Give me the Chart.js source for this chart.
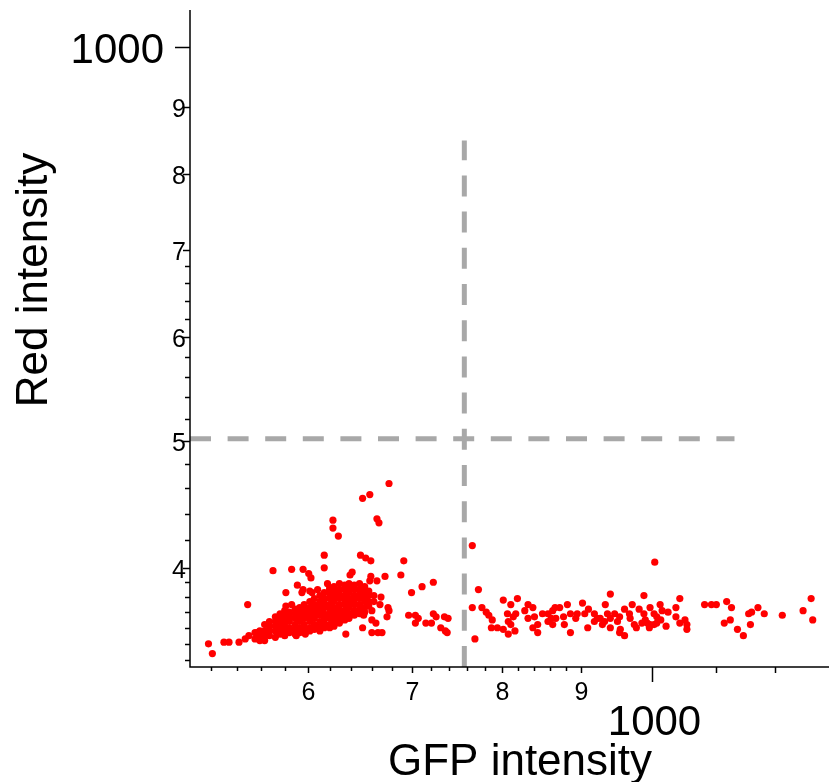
<!DOCTYPE html>
<html lang="en">
<head>
<meta charset="UTF-8">
<title>GFP vs Red intensity</title>
<script src="https://cdn.jsdelivr.net/npm/chart.js"></script>
<style>
  html, body { margin: 0; padding: 0; background: #fff; }
  #wrap { width: 833px; height: 782px; }
</style>
</head>
<body>
<div id="wrap"><canvas id="plot"></canvas></div>
<script>
// dense cluster, GFP ~550-660 / Red ~350-390
const clusterPts = [
  [555,357],[555,353],
  [559,358],[559,355],[559,352],
  [563,362],[563,358],[563,355],[563,352],
  [567,364],[567,361],[567,358],[567,355],
  [572,367],[572,364],[572,361],[572,358],[572,354],
  [576,369],[576,365],[576,362],[576,359],[576,356],
  [580,371],[580,367],[580,364],[580,361],[580,358],[580,355],
  [584,370],[584,367],[584,364],[584,360],[584,357],
  [589,372],[589,369],[589,366],[589,362],[589,359],[589,356],
  [593,373],[593,370],[593,367],[593,364],[593,360],[593,357],
  [597,375],[597,372],[597,369],[597,366],[597,362],[597,359],[597,357],
  [602,377],[602,373],[602,370],[602,367],[602,364],[602,360],[602,358],
  [606,379],[606,375],[606,372],[606,369],[606,366],[606,362],[606,359],
  [611,381],[611,377],[611,374],[611,371],[611,368],[611,364],[611,361],[611,358],
  [615,383],[615,379],[615,376],[615,373],[615,369],[615,366],[615,363],[615,360],
  [620,385],[620,382],[620,379],[620,375],[620,372],[620,369],[620,366],[620,362],
  [624,387],[624,383],[624,380],[624,377],[624,373],[624,370],[624,367],[624,364],[624,361],
  [629,389],[629,385],[629,382],[629,379],[629,375],[629,372],[629,369],[629,366],[629,363],
  [634,388],[634,385],[634,381],[634,378],[634,375],[634,371],[634,368],[634,365],
  [638,389],[638,386],[638,383],[638,379],[638,376],[638,373],[638,369],[638,366],
  [643,388],[643,385],[643,381],[643,378],[643,375],[643,371],[643,368],
  [648,389],[648,385],[648,382],[648,379],[648,375],[648,372],[648,369],
  [653,387],[653,383],[653,380],[653,377],[653,373],[653,370],
  [657,384],[657,381],[657,377],[657,374],
  [662,381],[662,377]
];

// scattered cells left of the GFP gate
const leftPts = [
  [677,464],[651,452],[658,455],[623,435],[623,429],[628,423],[665,436],[667,433],
  [615,409],[649,409],[654,407],[659,405],[692,405],
  [570,398],[586,399],[596,399],[601,396],[603,393],[615,400],[641,397],[639,395],
  [659,394],[658,391],[665,391],[673,394],[689,395],
  [700,383],[711,387],[723,390],[581,383],[591,388],[549,375],
  [518,350],[521,344],[530,351],[534,351],[542,351],[547,353],[550,355],
  [635,356],[651,360],[660,357],[666,357],[670,357],[664,363],[652,368],
  [675,367],[677,371],[676,373],[668,375],[669,380],
  [697,368],[704,368],[707,366],[704,363],[715,363],[721,363],[723,369],[726,367],
  [581,374],[586,375],[596,385],[602,384],[590,355],[598,356],[609,385],
  [595,383],[604,383],[618,389],[620,386],[620,360],[557,357],[560,353],
  [735,367],[739,366],[731,360],[736,358],[738,357],[660,371],[660,365]
];

// GFP-positive cells right of the gate
const rightPts = [
  [766,416],[773,385],[766,373],[769,353],[777,373],[782,370],[785,368],[789,365],[788,360],[795,360],
  [802,378],[819,379],[811,375],[807,369],[814,367],[817,369],[808,364],[811,362],[802,359],[808,356],[816,358],
  [828,371],[832,375],[832,366],[838,373],[840,367],[844,362],[844,357],[838,360],
  [850,369],[857,369],[861,366],[863,371],[866,373],[857,364],[863,362],[867,366],
  [872,373],[877,367],[878,362],[882,375],[886,369],[886,357],[893,366],[895,369],
  [902,376],[905,369],[910,372],[909,360],[918,369],[922,366],[918,364],[926,366],[929,362],
  [933,375],[936,369],[932,364],[940,366],[940,382],[940,360],[946,369],[953,367],[950,364],[954,359],[953,357],[960,355],
  [960,372],[967,369],[971,375],[968,366],[974,362],[977,360],[981,372],[985,363],[988,381],[988,369],[990,365],[993,363],[997,362],
  [1004,404],[997,373],[1003,369],[1007,367],[1012,375],[1015,371],[996,360],[1003,362],[1007,363],[1013,365],[1021,361],[1024,370],
  [1036,373],[1036,367],[1042,379],[1042,363],[1050,365],[1053,362],[1053,359],
  [1081,375],[1092,375],[1100,375],[1117,377],[1125,373],[1113,363],[1123,365],[1135,359],[1145,355],
  [1154,369],[1159,370],[1170,373],[1157,362],[1181,369],[1213,368],[1251,371],[1266,379],[1269,365]
];

// axis ranges and ticks
const gfpRange = [504, 1300];
const redRange = [336, 1067];
const gfpTicks = [520,540,560,580,600,620,640,660,680,700,720,740,760,780,800,820,840,860,880,900,1000,1100,1200];
const gfpLabels = {600: '6', 700: '7', 800: '8', 900: '9', 1000: '1000'};
const redTicks = [340,350,360,370,380,390,400,420,440,460,480,500,520,540,560,580,600,620,640,660,680,700,800,900,1000];
const redLabels = {400: '4', 500: '5', 600: '6', 700: '7', 800: '8', 900: '9', 1000: '1000'};

// gate lines
const gfpGate = 757, gfpGateTop = 848;
const redGate = 502, redGateEnd = 1130;

const toXY = p => ({x: p[0], y: p[1]});
const FONT = '"Liberation Sans", Arial, Helvetica, sans-serif';

const axesPlugin = {
  id: 'axesPlugin',
  afterDraw(chart) {
    const {ctx, chartArea: a} = chart;
    const xs = chart.scales.x, ys = chart.scales.y;
    ctx.save();
    ctx.strokeStyle = '#000';
    ctx.fillStyle = '#000';
    ctx.lineWidth = 1.5;
    ctx.beginPath();
    ctx.moveTo(a.left, a.top);
    ctx.lineTo(a.left, a.bottom);
    ctx.lineTo(a.right, a.bottom);
    ctx.stroke();

    // y ticks + labels
    ctx.textAlign = 'right';
    ctx.textBaseline = 'alphabetic';
    redTicks.forEach(v => {
      const py = Math.round(ys.getPixelForValue(v)) + 0.5;
      let len = 5;
      if (redLabels[v]) len = 7;
      if (v === 1000) len = 15;
      ctx.beginPath();
      ctx.moveTo(a.left - len, py);
      ctx.lineTo(a.left, py);
      ctx.stroke();
      if (redLabels[v]) {
        if (v === 1000) {
          ctx.font = '42px ' + FONT;
          ctx.fillText(redLabels[v], a.left - 26, py + 15);
        } else {
          ctx.font = '25px ' + FONT;
          ctx.fillText(redLabels[v], a.left - 4, py + 9);
        }
      }
    });

    // x ticks + labels
    ctx.textAlign = 'center';
    gfpTicks.forEach(v => {
      const px = Math.round(xs.getPixelForValue(v)) + 0.5;
      let len = 4;
      if (gfpLabels[v] || v > 1000) len = 6;
      if (v === 1000) len = 15;
      ctx.beginPath();
      ctx.moveTo(px, a.bottom);
      ctx.lineTo(px, a.bottom + len);
      ctx.stroke();
      if (gfpLabels[v]) {
        if (v === 1000) {
          ctx.font = '42px ' + FONT;
          ctx.fillText(gfpLabels[v], px + 2, a.bottom + 68);
        } else {
          ctx.font = '25px ' + FONT;
          ctx.fillText(gfpLabels[v], px, a.bottom + 33);
        }
      }
    });

    // axis titles
    ctx.font = '44px ' + FONT;
    ctx.textAlign = 'center';
    ctx.fillText('GFP intensity', 520, 775);
    ctx.translate(47, 280);
    ctx.rotate(-Math.PI / 2);
    ctx.fillText('Red intensity', 0, 0);
    ctx.restore();
  }
};

const gateStyle = {
  type: 'line',
  showLine: true,
  borderColor: '#a8a8a8',
  borderWidth: 5,
  borderCapStyle: 'butt',
  pointRadius: 0,
  tension: 0,
  order: 2
};

new Chart(document.getElementById('plot'), {
  type: 'scatter',
  data: {
    datasets: [
      {
        label: 'cells',
        data: clusterPts.concat(leftPts, rightPts).map(toXY),
        backgroundColor: '#ff0000',
        borderWidth: 0,
        pointRadius: 3.6,
        order: 1
      },
      Object.assign({label: 'GFP gate', borderDash: [21, 15.2],
        data: [{x: gfpGate, y: redRange[0]}, {x: gfpGate, y: gfpGateTop}]}, gateStyle),
      Object.assign({label: 'Red gate', borderDash: [21, 16.6],
        data: [{x: gfpRange[0], y: redGate}, {x: redGateEnd, y: redGate}]}, gateStyle)
    ]
  },
  options: {
    responsive: true,
    maintainAspectRatio: false,
    animation: false,
    layout: { padding: { left: 190, top: 10, right: 0, bottom: 115 } },
    plugins: { legend: { display: false }, tooltip: { enabled: false } },
    scales: {
      x: { type: 'logarithmic', min: gfpRange[0], max: gfpRange[1], display: false },
      y: { type: 'logarithmic', min: redRange[0], max: redRange[1], display: false }
    }
  },
  plugins: [axesPlugin]
});
</script>
</body>
</html>
